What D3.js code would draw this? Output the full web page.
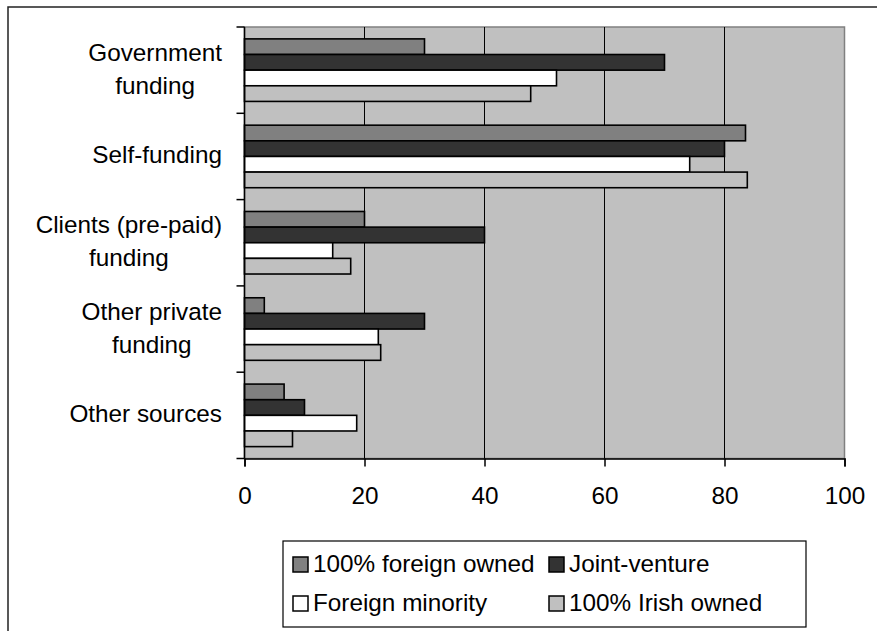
<!DOCTYPE html>
<html>
<head>
<meta charset="utf-8">
<script src="https://cdn.jsdelivr.net/npm/d3@7"></script>
<style>
  html, body { margin: 0; padding: 0; background: #ffffff; }
  svg { display: block; }
  text { font-family: "Liberation Sans", Arial, sans-serif; fill: #000; }
</style>
</head>
<body>
<svg id="chart" width="877" height="631"></svg>
<script>
// ---- Data ----
const categories = ["Government funding", "Self-funding", "Clients (pre-paid) funding", "Other private funding", "Other sources"];
const categoryLines = [["Government", "funding"], ["Self-funding"], ["Clients (pre-paid)", "funding"], ["Other private", "funding"], ["Other sources"]];
const seriesNames = ["100% foreign owned", "Joint-venture", "Foreign minority", "100% Irish owned"];
const foreignOwned = [30, 83.5, 20, 3.3, 6.6];
const jointVenture = [70, 80, 40, 30, 10];
const foreignMinority = [52, 74.2, 14.7, 22.3, 18.7];
const irishOwned = [47.7, 83.8, 17.7, 22.7, 8];
const xTicks = [0, 20, 40, 60, 80, 100];
const seriesColors = ["#808080", "#333333", "#ffffff", "#c0c0c0"];

const seriesValues = [foreignOwned, jointVenture, foreignMinority, irishOwned];

// ---- Layout ----
const svg = d3.select("#chart");
const plot = { left: 244.5, right: 844.5, top: 27, bottom: 458.5 };
const fontSize = 24.3;

// outer frame (extends beyond the canvas on right/bottom)
svg.append("rect").attr("x", 8).attr("y", 7).attr("width", 900).attr("height", 700)
  .attr("fill", "#fff").attr("stroke", "#222").attr("stroke-width", 1.5);

const x = d3.scaleLinear().domain([0, 100]).range([plot.left, plot.right]);
const y = d3.scaleBand().domain(categories).range([plot.top, plot.bottom]).paddingInner(0).paddingOuter(0);
const yInner = d3.scaleBand().domain(seriesNames).range([0, y.bandwidth()]).paddingInner(0).paddingOuter(0.76);

// plot background
svg.append("rect").attr("x", plot.left).attr("y", plot.top)
  .attr("width", plot.right - plot.left).attr("height", plot.bottom - plot.top)
  .attr("fill", "#c0c0c0").attr("stroke", "#808080").attr("stroke-width", 1.5);

// gridlines
svg.append("g").selectAll("line").data(xTicks.filter(d => d > 0 && d < 100)).join("line")
  .attr("x1", d => x(d)).attr("x2", d => x(d))
  .attr("y1", plot.top).attr("y2", plot.bottom)
  .attr("stroke", "#000").attr("stroke-width", 1);

// bars
const groups = svg.append("g").selectAll("g").data(categories).join("g")
  .attr("transform", c => `translate(0,${y(c)})`);
groups.selectAll("rect").data((c, ci) => seriesNames.map((s, si) => ({ s, si, v: seriesValues[si][ci] })))
  .join("rect")
  .attr("x", x(0))
  .attr("y", d => yInner(d.s))
  .attr("width", d => x(d.v) - x(0))
  .attr("height", yInner.bandwidth())
  .attr("fill", d => seriesColors[d.si])
  .attr("stroke", "#000").attr("stroke-width", 1.6);

// x axis
const xAxis = d3.axisBottom(x).tickValues(xTicks).tickSize(8).tickPadding(20).tickFormat(d3.format("d"));
const gx = svg.append("g").attr("transform", `translate(0,${plot.bottom})`).call(xAxis);
gx.select(".domain").attr("stroke", "#000").attr("stroke-width", 1.5);
gx.selectAll(".tick line").attr("stroke", "#000").attr("stroke-width", 1.5);
gx.selectAll(".tick text").attr("font-size", fontSize).attr("font-family", "Liberation Sans, Arial, sans-serif").attr("fill", "#000");

// y axis line and ticks at band boundaries
const yBounds = categories.map(c => y(c)).concat([plot.bottom]);
svg.append("line").attr("x1", plot.left).attr("x2", plot.left).attr("y1", plot.top).attr("y2", plot.bottom)
  .attr("stroke", "#000").attr("stroke-width", 1.5);
svg.append("g").selectAll("line").data(yBounds).join("line")
  .attr("x1", plot.left - 8).attr("x2", plot.left).attr("y1", d => d).attr("y2", d => d)
  .attr("stroke", "#000").attr("stroke-width", 1.5);

// category labels: block right-aligned, lines centered within the block
const labelRight = 222;
const lineH = 33;
categoryLines.forEach((lines, i) => {
  const cy = y(categories[i]) + y.bandwidth() / 2;
  const g = svg.append("g");
  const texts = g.selectAll("text").data(lines).join("text")
    .attr("font-size", fontSize)
    .attr("y", (d, j) => cy + 7 + (j - (lines.length - 1) / 2) * lineH)
    .text(d => d);
  let maxW = 0;
  texts.each(function () { maxW = Math.max(maxW, this.getComputedTextLength()); });
  texts.attr("text-anchor", "middle").attr("x", labelRight - maxW / 2);
});

// legend
const legend = { x: 283, y: 541, w: 523, h: 86 };
svg.append("rect").attr("x", legend.x).attr("y", legend.y).attr("width", legend.w).attr("height", legend.h)
  .attr("fill", "#fff").attr("stroke", "#000").attr("stroke-width", 1.2);
const legendCols = [293, 549];
const legendRows = [564, 603];
seriesNames.forEach((name, i) => {
  const lx = legendCols[i % 2], ly = legendRows[Math.floor(i / 2)];
  svg.append("rect").attr("x", lx).attr("y", ly - 7).attr("width", 15).attr("height", 15)
    .attr("fill", seriesColors[i]).attr("stroke", "#000").attr("stroke-width", 1.5);
  svg.append("text").attr("x", lx + 20).attr("y", ly + 8).attr("font-size", fontSize).text(name);
});
</script>
</body>
</html>
